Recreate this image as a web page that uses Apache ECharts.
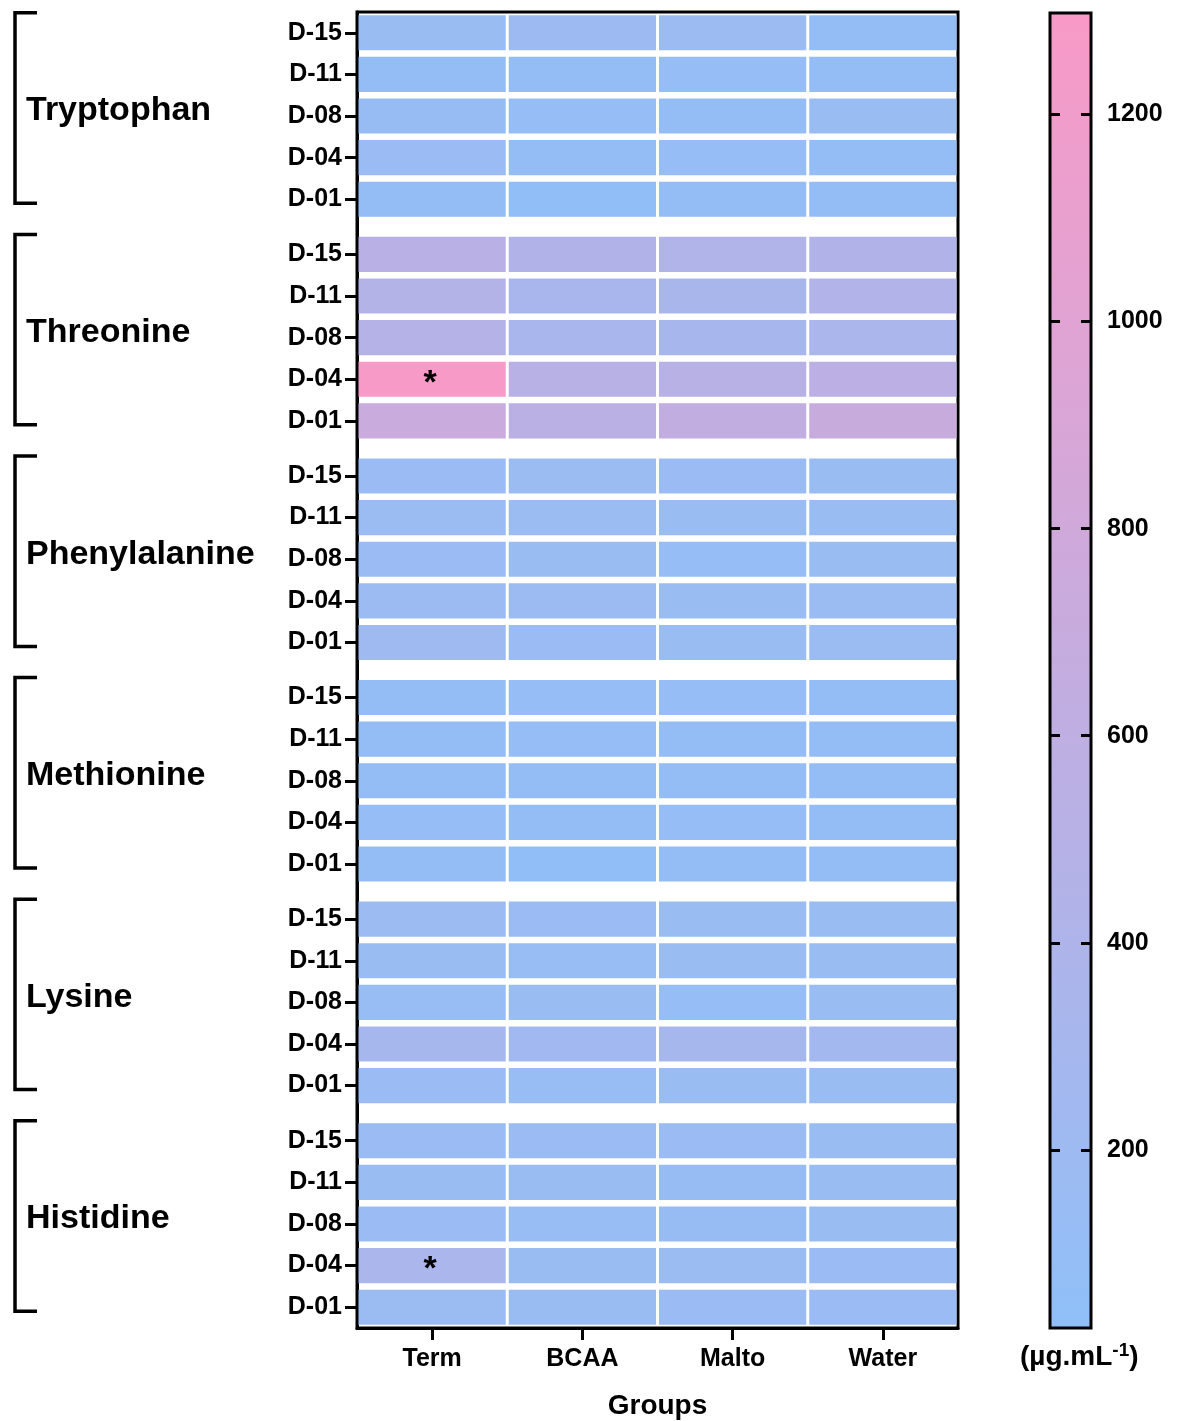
<!DOCTYPE html>
<html>
<head>
<meta charset="utf-8">
<title>Amino acid heatmap</title>
<script src="https://cdn.jsdelivr.net/npm/echarts@6.0.0/dist/echarts.min.js"></script>
<style>
html, body { margin: 0; padding: 0; background: #fff; }
#chart { width: 1179px; height: 1421px; }
</style>
</head>
<body>
<div id="chart"></div>
<script>
var groups = ['Tryptophan', 'Threonine', 'Phenylalanine', 'Methionine', 'Lysine', 'Histidine'];
var days = ['D-15', 'D-11', 'D-08', 'D-04', 'D-01'];
var treatments = ['Term', 'BCAA', 'Malto', 'Water'];

// rows = days (D-15 .. D-01), columns = Term, BCAA, Malto, Water  (µg/mL)
var tryptophan = [
	[147, 194, 182, 88],
	[88, 85, 110, 100],
	[120, 110, 100, 147],
	[158, 88, 110, 100],
	[88, 65, 85, 88]
];
var threonine = [
	[527, 432, 420, 432],
	[455, 325, 337, 444],
	[467, 325, 313, 349],
	[1290, 515, 515, 562],
	[728, 538, 645, 716]
];
var phenylalanine = [
	[158, 170, 158, 147],
	[170, 170, 147, 147],
	[158, 147, 110, 147],
	[182, 182, 147, 170],
	[218, 158, 147, 170]
];
var methionine = [
	[88, 110, 110, 88],
	[100, 110, 100, 100],
	[100, 100, 100, 88],
	[110, 100, 110, 100],
	[100, 65, 85, 88]
];
var lysine = [
	[182, 158, 147, 147],
	[147, 135, 147, 147],
	[135, 147, 110, 147],
	[301, 242, 301, 254],
	[158, 135, 147, 147]
];
var histidine = [
	[158, 158, 158, 147],
	[147, 147, 120, 147],
	[158, 135, 120, 147],
	[348, 147, 170, 158],
	[170, 147, 158, 158]
];
var groupValues = [tryptophan, threonine, phenylalanine, methionine, lysine, histidine];

// [group, day, treatment] cells marked with *
var marked = [[1, 3, 0], [5, 3, 0]];

var colorTicks = [200, 400, 600, 800, 1000, 1200];
var colorMin = 28, colorMax = 1298;
var lowColor = '#8fbff8', highColor = '#f99ac7';

var FONT = 'Liberation Sans, Arial, sans-serif';
var GAP = 0.325;          // space between amino acid blocks, in rows
var COL_GAP = 3, ROW_GAP = 6.5;
var groupSpan = days.length + GAP;
var total = groups.length * days.length + (groups.length - 1) * GAP;

function rowPos(g, d) {
	return g * groupSpan + d + 0.5;
}

var cells = [], rowPositions = [], rowLabelAt = {};
groups.forEach(function (name, g) {
	days.forEach(function (day, d) {
		var pos = rowPos(g, d);
		rowPositions.push(pos);
		rowLabelAt[pos.toFixed(3)] = day;
		treatments.forEach(function (t, k) {
			var star = marked.some(function (m) { return m[0] == g && m[1] == d && m[2] == k; }) ? 1 : 0;
			cells.push([k, pos, groupValues[g][d][k], star]);
		});
	});
});

function renderCell(params, api) {
	var c = api.coord([api.value(0), api.value(1)]);
	var size = api.size([1, 1]);
	var w = size[0] - COL_GAP, h = size[1] - ROW_GAP;
	var children = [{
		type: 'rect',
		shape: { x: c[0] - w / 2, y: c[1] - h / 2, width: w, height: h },
		style: { fill: api.visual('color') }
	}];
	if (api.value(3)) {
		children.push({
			type: 'text',
			x: c[0] - 2,
			y: c[1] + 4,
			style: { text: '*', font: 'bold 34px ' + FONT, fill: '#000', align: 'center', verticalAlign: 'middle' }
		});
	}
	return { type: 'group', children: children };
}

var chart = echarts.init(document.getElementById('chart'));
var option = {
	animation: false,
	backgroundColor: '#fff',
	grid: [{
		left: 357, right: 221, top: 12, bottom: 93,
		show: true, borderColor: '#000', borderWidth: 3,
		outerBoundsMode: 'none'
	}, {
		left: 1050, width: 41, top: 13, bottom: 93,
		show: true, borderColor: '#000', borderWidth: 3,
		backgroundColor: {
			type: 'linear', x: 0, y: 0, x2: 0, y2: 1,
			colorStops: [{ offset: 0, color: highColor }, { offset: 1, color: lowColor }]
		},
		outerBoundsMode: 'none'
	}],
	xAxis: [{
		type: 'category',
		gridIndex: 0,
		position: 'bottom',
		data: treatments,
		axisLine: { show: true, onZero: false, lineStyle: { color: '#000', width: 3 } },
		axisTick: { show: true, alignWithLabel: true, length: 12, lineStyle: { color: '#000', width: 3 } },
		axisLabel: { color: '#000', fontFamily: FONT, fontWeight: 'bold', fontSize: 25, margin: 19 },
		name: 'Groups',
		nameLocation: 'middle',
		nameGap: 64,
		nameTextStyle: { color: '#000', fontFamily: FONT, fontWeight: 'bold', fontSize: 28 }
	}, {
		type: 'value',
		gridIndex: 1,
		min: 0, max: 1,
		axisLine: { show: false, onZero: false },
		axisTick: { show: false },
		axisLabel: { show: false },
		splitLine: { show: false }
	}],
	yAxis: [{
		type: 'value',
		gridIndex: 0,
		min: 0, max: total,
		inverse: true,
		splitLine: { show: false },
		axisLine: { show: true, onZero: false, lineStyle: { color: '#000', width: 3 } },
		axisTick: { show: true, length: 12, customValues: rowPositions, lineStyle: { color: '#000', width: 3 } },
		axisLabel: {
			customValues: rowPositions,
			color: '#000', fontFamily: FONT, fontWeight: 'bold', fontSize: 25, margin: 15,
			formatter: function (v) { return rowLabelAt[v.toFixed(3)] || ''; }
		}
	}, {
		type: 'value',
		gridIndex: 1,
		position: 'right',
		min: colorMin, max: colorMax,
		z: 5,
		splitLine: { show: false },
		axisLine: { show: false, onZero: false },
		axisTick: { show: true, inside: true, length: 10, customValues: colorTicks, lineStyle: { color: '#000', width: 3 } },
		axisLabel: {
			customValues: colorTicks, color: '#000', fontFamily: FONT, fontWeight: 'bold', fontSize: 25, margin: 16,
			formatter: function (v) { return String(v); }
		}
	}, {
		type: 'value',
		gridIndex: 1,
		position: 'left',
		min: colorMin, max: colorMax,
		z: 5,
		splitLine: { show: false },
		axisLine: { show: false, onZero: false },
		axisTick: { show: true, inside: true, length: 10, customValues: colorTicks, lineStyle: { color: '#000', width: 3 } },
		axisLabel: { show: false }
	}],
	visualMap: {
		type: 'continuous',
		show: false,
		min: colorMin,
		max: colorMax,
		dimension: 2,
		seriesIndex: 0,
		inRange: { color: [lowColor, highColor] }
	},
	series: [{
		type: 'custom',
		xAxisIndex: 0,
		yAxisIndex: 0,
		encode: { x: 0, y: 1 },
		renderItem: renderCell,
		data: cells
	}]
};
chart.setOption(option);

// brackets, amino acid names and the unit under the colour bar
var graphics = [];
groups.forEach(function (name, g) {
	var top = chart.convertToPixel({ gridIndex: 0 }, [0, rowPos(g, 0)])[1] - 20;
	var bottom = chart.convertToPixel({ gridIndex: 0 }, [0, rowPos(g, days.length - 1)])[1] + 4;
	graphics.push({
		type: 'polyline',
		shape: { points: [[37, top], [15, top], [15, bottom], [37, bottom]] },
		style: { stroke: '#000', lineWidth: 3.5, fill: null }
	});
	graphics.push({
		type: 'text',
		x: 26,
		y: (top + bottom) / 2 + 3,
		style: { text: name, font: 'bold 34px ' + FONT, fill: '#000', verticalAlign: 'middle' }
	});
});
graphics.push({
	type: 'text',
	x: 1020,
	y: 1357,
	style: {
		text: '(µg.mL{sup|-1})',
		font: 'bold 28px ' + FONT,
		fill: '#000',
		verticalAlign: 'middle',
		rich: { sup: { font: 'bold 19px ' + FONT, fill: '#000', verticalAlign: 'top', padding: [0, 0, 12, 0] } }
	}
});
chart.setOption({ graphic: graphics });
</script>
</body>
</html>
